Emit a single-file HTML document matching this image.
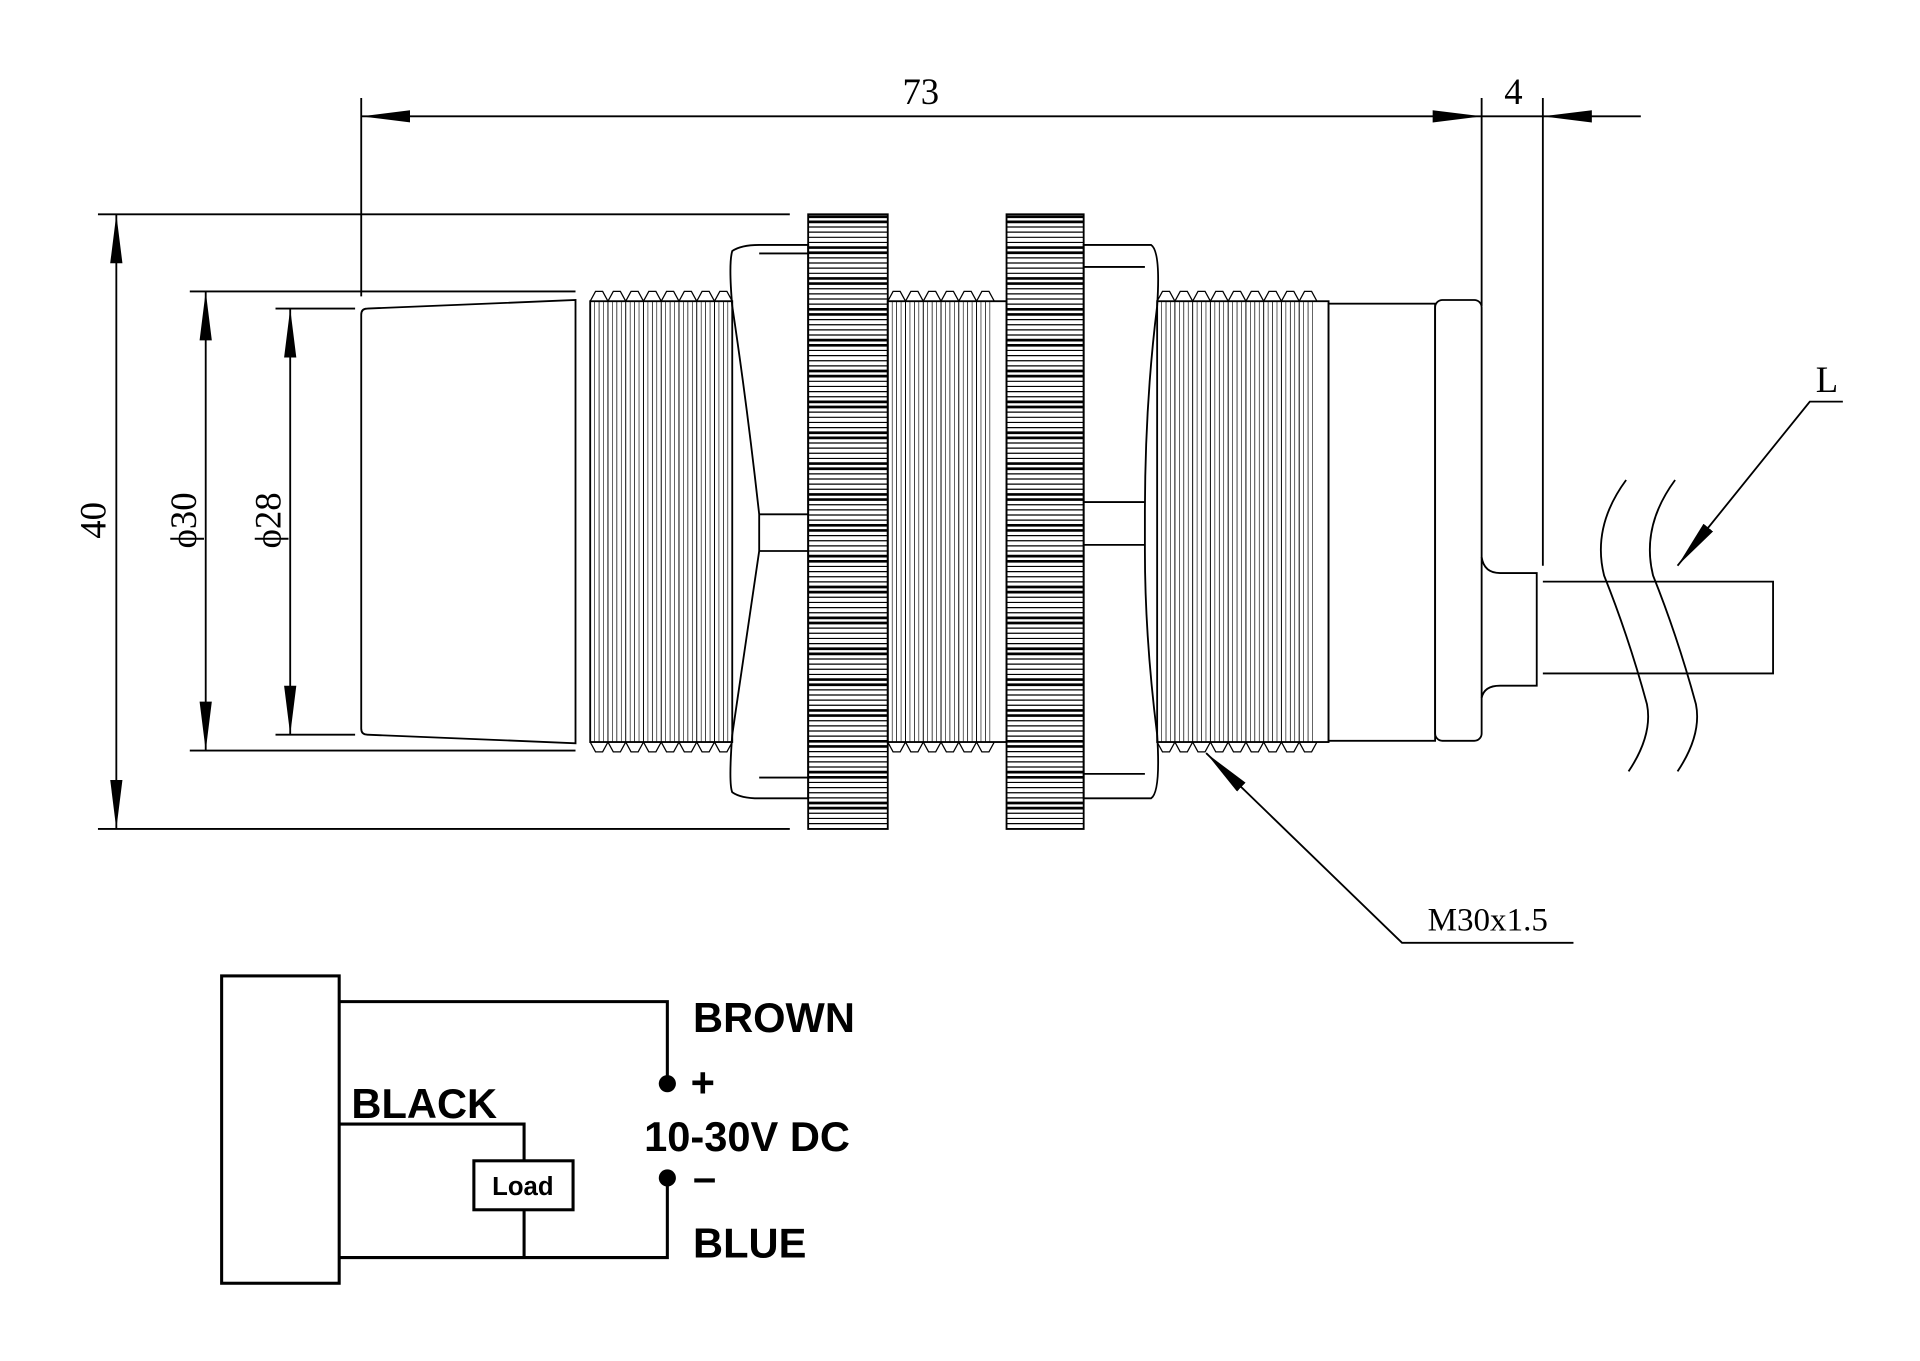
<!DOCTYPE html>
<html><head><meta charset="utf-8"><style>html,body{margin:0;padding:0;background:#fff}svg{display:block}</style></head>
<body>
<svg id="s" width="1920" height="1361" viewBox="0 0 1568 1111.5" preserveAspectRatio="none" xmlns="http://www.w3.org/2000/svg" font-family="Liberation Serif, serif">
<defs>
<marker id="a" viewBox="0 0 40 10" refX="40" refY="5" markerWidth="40" markerHeight="10" markerUnits="userSpaceOnUse" orient="auto-start-reverse"><path d="M40,5 L0,0 L0,10 Z" fill="#000"/></marker>
</defs>
<g stroke="#000" stroke-width="1.5" fill="none">
<line x1="295" y1="95" x2="1210" y2="95" marker-start="url(#a)" marker-end="url(#a)"/>
<line x1="1260" y1="95" x2="1340" y2="95" marker-start="url(#a)"/>
<line x1="1210" y1="95" x2="1260" y2="95"/>
<line x1="295" y1="80" x2="295" y2="242"/>
<line x1="1210" y1="80" x2="1210" y2="250"/>
<line x1="1260" y1="80" x2="1260" y2="462"/>
<line x1="95" y1="175" x2="95" y2="677" marker-start="url(#a)" marker-end="url(#a)"/>
<line x1="80" y1="175" x2="645" y2="175"/><line x1="80" y1="677" x2="645" y2="677"/>
<line x1="168" y1="238" x2="168" y2="613" marker-start="url(#a)" marker-end="url(#a)"/>
<line x1="155" y1="238" x2="470" y2="238"/><line x1="155" y1="613" x2="470" y2="613"/>
<line x1="237" y1="252" x2="237" y2="600" marker-start="url(#a)" marker-end="url(#a)"/>
<line x1="225" y1="252" x2="290" y2="252"/><line x1="225" y1="600" x2="290" y2="600"/>
<path d="M300,252 L470,245 L470,607 L300,600 Q295,600 295,595 L295,257 Q295,252 300,252 Z"/>
<rect x="482" y="246" width="116" height="360"/>
<rect x="725" y="246" width="97" height="360"/>
<rect x="945" y="246" width="140" height="360"/>
<path d="M598,205 Q605,200 620,200 L660,200 L660,652 L620,652 Q605,652 598,647 Q595,640 598,600 Q610,520 620,450 L620,420 Q610,330 598,250 Q595,215 598,205Z"/>
<line x1="620" y1="207" x2="660" y2="207"/><line x1="620" y1="420" x2="660" y2="420"/><line x1="620" y1="450" x2="660" y2="450"/><line x1="620" y1="635" x2="660" y2="635"/>
<path d="M885,200 L940,200 Q948,205 945,250 Q935,330 935,420 L935,450 Q935,520 945,600 Q948,647 940,652 L885,652 Z"/>
<line x1="885" y1="218" x2="935" y2="218"/><line x1="885" y1="410" x2="935" y2="410"/><line x1="885" y1="445" x2="935" y2="445"/><line x1="885" y1="632" x2="935" y2="632"/>
<rect x="660" y="175" width="65" height="502"/>
<rect x="822" y="175" width="63" height="502"/>
<rect x="1085" y="248" width="87" height="357"/>
<rect x="1172" y="245" width="38" height="360" rx="6"/>
<path d="M1210,455 Q1212,468 1225,468 L1255,468 L1255,560 L1225,560 Q1212,560 1210,570"/>
<path d="M1260,475 L1448,475 L1448,550 L1260,550"/>
<path d="M1328,392 Q1300,430 1310,470 Q1330,520 1345,575 Q1350,600 1330,630"/>
<path d="M1368,392 Q1340,430 1350,470 Q1370,520 1385,575 Q1390,600 1370,630"/>
<path d="M1505,328 L1478,328 L1370,462" marker-end="url(#a)"/>
<path d="M1285,770 L1145,770 L985,615" marker-end="url(#a)"/>
<rect x="181" y="797" width="96" height="251" stroke-width="2.5"/>
<path d="M277,818 L545,818 L545,885" stroke-width="2.5"/>
<path d="M277,918 L428,918 L428,948" stroke-width="2.5"/>
<rect x="387" y="948" width="81" height="40" stroke-width="2.5"/>
<path d="M428,988 L428,1027" stroke-width="2.5"/>
<path d="M277,1027 L545,1027 L545,962" stroke-width="2.5"/>
</g>
<g id="th" stroke="#000" stroke-width="1" fill="none"></g>
<circle cx="545" cy="885" r="7" fill="#000"/><circle cx="545" cy="962" r="7" fill="#000"/>
<g font-size="30" fill="#000">
<text x="752" y="85" text-anchor="middle">73</text>
<text x="1236" y="85" text-anchor="middle">4</text>
<text x="1492" y="320" text-anchor="middle">L</text>
<text x="1215" y="760" text-anchor="middle" font-size="27">M30x1.5</text>
<text transform="translate(86,425) rotate(-90)" text-anchor="middle">40</text>
<text transform="translate(160,425) rotate(-90)" text-anchor="middle">ϕ30</text>
<text transform="translate(229,425) rotate(-90)" text-anchor="middle">ϕ28</text>
</g>
<g font-family="Liberation Sans, sans-serif" font-weight="bold" fill="#000">
<text x="566" y="843" font-size="34">BROWN</text>
<text x="287" y="913" font-size="34">BLACK</text>
<text x="526" y="940" font-size="34">10-30V DC</text>
<text x="566" y="1027" font-size="34">BLUE</text>
<text x="564" y="896" font-size="34">+</text>
<text x="566" y="973" font-size="34">–</text>
<text x="427" y="976" font-size="21" text-anchor="middle">Load</text>
</g>
</svg>
<script>
(function(){
var g=document.getElementById('th'),ns='http://www.w3.org/2000/svg',P=14.5;
function L(a,b,c,d,w){var e=document.createElementNS(ns,'line');e.setAttribute('x1',a);e.setAttribute('y1',b);e.setAttribute('x2',c);e.setAttribute('y2',d);if(w)e.setAttribute('stroke-width',w);g.appendChild(e);}
function Pa(d){var e=document.createElementNS(ns,'path');e.setAttribute('d',d);g.appendChild(e);}
[[482,598],[725,822],[945,1085]].forEach(function(r){
 var p='M'+r[0]+',246',q='M'+r[0]+',606';
 for(var x=r[0];x+P<=r[1]+0.1;x+=P){
  L(x,246,x,606,0.8);L(x+P/2,246,x+P/2,606,0.6);L(x+P/4,246,x+P/4,606,0.5);L(x+3*P/4,246,x+3*P/4,606,0.5);
  p+=' L'+(x+P*0.3)+',238 L'+(x+P*0.7)+',238 L'+(x+P)+',246';
  q+=' L'+(x+P*0.3)+',614 L'+(x+P*0.7)+',614 L'+(x+P)+',606';
 }
 Pa(p);Pa(q);
});
[[660,725],[822,885]].forEach(function(r){
 var i=0;
 for(var y=177;y<677;y+=4.2){L(r[0],y,r[1],y,(i%6<2)?2.2:1);i++;}
});
})();
</script>
</body></html>
